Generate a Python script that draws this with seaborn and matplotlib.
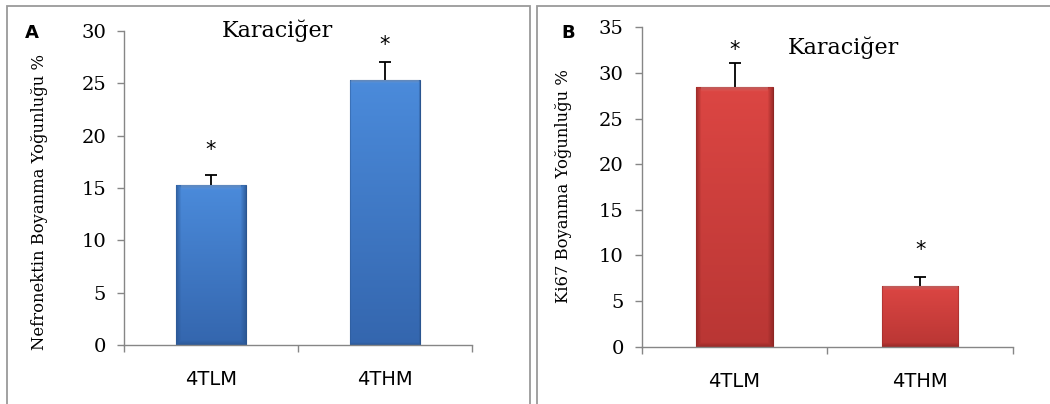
import numpy as np
import pandas as pd
import matplotlib
matplotlib.use("Agg")
import matplotlib.pyplot as plt
import seaborn as sns
from matplotlib.colors import to_rgb
from matplotlib.patches import Rectangle

# Data
groups = ["4TLM", "4THM"]
fn_values = [15.3, 25.3]      # Nefronektin staining %
fn_err = [0.95, 1.7]
ki67_values = [28.5, 6.7]     # Ki67 staining %
ki67_err = [2.55, 0.9]

sns.set_theme(style="white")
plt.rcParams["font.family"] = ["DejaVu Serif"]

fig = plt.figure(figsize=(10.5, 4.04), dpi=100)
W, H = 1050, 404

# panel frames
for x0, x1 in [(7, 530), (537, 1060)]:
    fig.patches.append(Rectangle((x0 / W, -0.05), (x1 - x0) / W, (H - 6) / H + 0.05,
                                 transform=fig.transFigure, fill=False,
                                 edgecolor="#9a9a9a", linewidth=1.3))

ax_a = fig.add_axes([124 / W, 1 - 345 / H, (472 - 124) / W, (345 - 31) / H])
ax_b = fig.add_axes([641.7 / W, 1 - 346.7 / H, (1013 - 641.7) / W, (346.7 - 27.3) / H])


def shade_bars(ax, top, bottom, edge):
    # bevel-like fill clipped to every bar drawn by seaborn
    top, bottom, edge = map(np.array, map(to_rgb, (top, bottom, edge)))
    for p in ax.patches:
        bb = p.get_bbox()
        disp = ax.transData.transform([[bb.x0, bb.y0], [bb.x1, bb.y1]])
        wpx = max(int(abs(disp[1, 0] - disp[0, 0])), 2)
        hpx = max(int(abs(disp[1, 1] - disp[0, 1])), 2)
        t = np.linspace(0, 1, hpx)[:, None, None]
        img = top * (1 - t) + bottom * t
        img = np.repeat(img, wpx, axis=1)
        cols = np.arange(wpx)
        rows = np.arange(hpx)
        d = np.minimum(np.minimum(cols, wpx - 1 - cols)[None, :],
                       np.minimum(rows, hpx - 1 - rows)[:, None]).astype(float)
        k = np.clip(1 - d / 5.0, 0, 1)[:, :, None] * 0.75
        img = img * (1 - k) + edge * k
        # lighter top bevel
        lt = np.clip(1 - rows / 6.0, 0, 1)[:, None, None] * 0.25
        lt = lt * (np.minimum(cols, wpx - 1 - cols)[None, :, None] > 4)
        img = img * (1 - lt) + 1.0 * lt
        im = ax.imshow(img, extent=[bb.x0, bb.x1, bb.y0, bb.y1], aspect="auto",
                       origin="upper", zorder=p.get_zorder() + 0.1, interpolation="bilinear")
        im.set_clip_path(p)
        p.set_edgecolor(edge)
        p.set_linewidth(0.8)


def panel(ax, values, errs, colors, ymax, ylabel, letter, letter_x,
          title_xy, label_xy, star_off, width):
    df = pd.DataFrame({"group": groups, "value": values})
    sns.barplot(data=df, x="group", y="value", color=colors[0], width=width,
                errorbar=None, ax=ax, saturation=1, zorder=2)
    shade_bars(ax, *colors)
    # one-sided (upper) error bars
    eb = ax.errorbar(range(len(groups)), values, yerr=[np.zeros(len(errs)), errs],
                     fmt="none", ecolor="black", elinewidth=1.3, capsize=4.5,
                     capthick=1.3, zorder=1)
    eb[1][0].set_visible(False)
    for i, (v, e) in enumerate(zip(values, errs)):
        ax.annotate("*", (i, v + e), xytext=(0, star_off[i]), textcoords="offset pixels",
                    ha="center", va="center", fontsize=15, family="DejaVu Sans",
                    color="black")
    ax.set_xlim(-0.5, len(groups) - 0.5)
    ax.set_ylim(0, ymax)
    ax.set_yticks(np.arange(0, ymax + 1, 5))
    ax.set_xticks(np.arange(-0.5, len(groups)), minor=True)
    ax.tick_params(axis="x", which="major", length=0, pad=18, labelsize=14,
                   labelcolor="black")
    ax.tick_params(axis="x", which="minor", length=5, width=1, color="#868686", direction="out",
                   bottom=True)
    ax.tick_params(axis="y", length=5, width=1, color="#868686", direction="out", left=True,
                   labelsize=14, pad=8, labelcolor="black")
    for lab in ax.get_xticklabels():
        lab.set_family("DejaVu Sans")
    for s in ["top", "right"]:
        ax.spines[s].set_visible(False)
    for s in ["left", "bottom"]:
        ax.spines[s].set_color("#868686")
        ax.spines[s].set_linewidth(1)
        ax.spines[s].set_zorder(3)
    ax.set_xlabel("")
    ax.set_ylabel(ylabel, fontsize=11.8, color="black")
    ax.yaxis.set_label_coords(*label_xy)
    ax.text(title_xy[0], title_xy[1], "Karaciğer", transform=ax.transAxes,
            ha="center", va="center", fontsize=16, color="black")
    fig.text(letter_x / W, 1 - 33 / H, letter, ha="center", va="center",
             fontsize=13, fontweight="bold", family="DejaVu Sans", color="black")


panel(ax_a, fn_values, fn_err, ("#4b8bdb", "#3466ae", "#2a5590"), 30,
      "Nefronektin Boyanma Yoğunluğu %", "A", 32, (0.44, 1.0), (-0.218, 0.455),
      [25, 17], 0.4)
panel(ax_b, ki67_values, ki67_err, ("#dc4643", "#b93634", "#8e2624"), 35,
      "Ki67 Boyanma Yoğunluğu %", "B", 568, (0.542, 0.935), (-0.188, 0.503),
      [13, 27], 0.41)

fig.savefig("out.png", dpi=100)
